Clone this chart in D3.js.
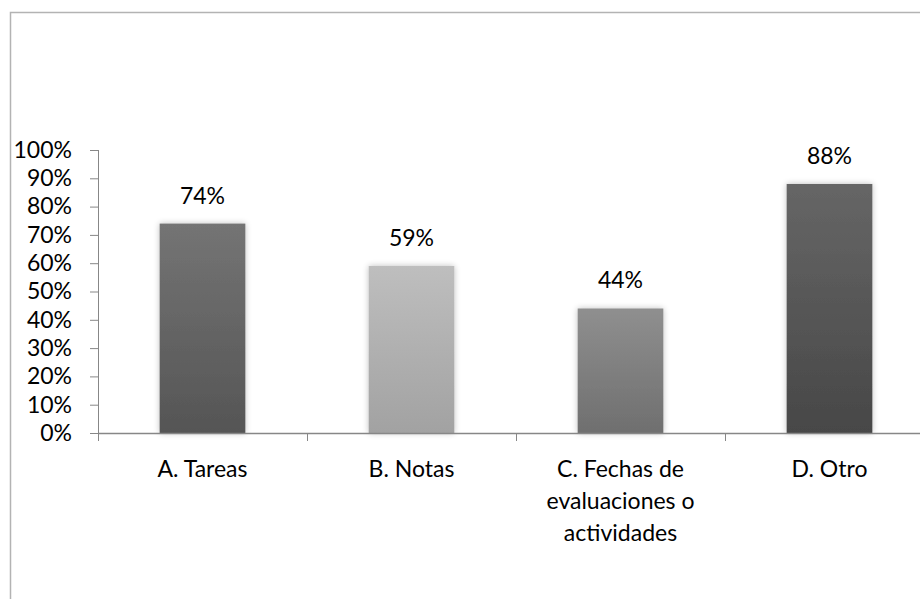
<!DOCTYPE html>
<html>
<head>
<meta charset="utf-8">
<script src="https://cdn.jsdelivr.net/npm/d3@7"></script>
<style>
  body { margin: 0; background: #fff; }
  svg text { font-family: Lato, "Open Sans", sans-serif; fill: #000; }
</style>
</head>
<body>
<script>
// Chart data
var categories = ["A. Tareas", "B. Notas", "C. Fechas de evaluaciones o actividades", "D. Otro"];
var values = [0.74, 0.59, 0.44, 0.88];
var yTicks = [0, 0.1, 0.2, 0.3, 0.4, 0.5, 0.6, 0.7, 0.8, 0.9, 1.0];
var barTop = ["#747474", "#bebebe", "#8f8f8f", "#666666"];
var barBottom = ["#555555", "#a2a2a2", "#6f6f6f", "#474747"];

var width = 920;
var height = 599;
var fontSize = "23px";

var svg = d3.select("body").append("svg")
    .attr("width", width)
    .attr("height", height);

var defs = svg.append("defs");

// soft shadow around bars
var filter = defs.append("filter")
    .attr("id", "shadow")
    .attr("x", "-20%").attr("y", "-10%")
    .attr("width", "140%").attr("height", "120%");
filter.append("feGaussianBlur").attr("in", "SourceAlpha").attr("stdDeviation", 3);
filter.append("feComponentTransfer").append("feFuncA").attr("type", "linear").attr("slope", 0.25);
var merge = filter.append("feMerge");
merge.append("feMergeNode");
merge.append("feMergeNode").attr("in", "SourceGraphic");

values.forEach(function(v, i) {
  var g = defs.append("linearGradient")
      .attr("id", "grad" + i)
      .attr("x1", 0).attr("y1", 0).attr("x2", 0).attr("y2", 1);
  g.append("stop").attr("offset", "0%").attr("stop-color", barTop[i]);
  g.append("stop").attr("offset", "100%").attr("stop-color", barBottom[i]);
});

// outer frame
svg.append("rect")
    .attr("x", 10.5).attr("y", 12.5)
    .attr("width", 1000).attr("height", 1000)
    .attr("fill", "none")
    .attr("stroke", "#b3b3b3")
    .attr("stroke-width", 1.5);

var plotLeft = 98, plotRight = 934, plotTop = 150, plotBottom = 433;

var x = d3.scaleBand()
    .domain(categories)
    .range([plotLeft, plotRight])
    .paddingInner(0.59)
    .paddingOuter(0.295);

var y = d3.scaleLinear()
    .domain([0, 1])
    .range([plotBottom, plotTop]);

// y axis
var yAxis = svg.append("g")
    .attr("transform", "translate(" + plotLeft + ",0)")
    .call(d3.axisLeft(y).tickValues(yTicks).tickSize(8).tickPadding(18)
      .tickFormat(d3.format(".0%")));
yAxis.selectAll("line").attr("stroke", "#878787");
yAxis.select(".domain").attr("stroke", "#878787").attr("d", "M0.5," + plotTop + "V" + plotBottom);
yAxis.selectAll("text").attr("font-size", fontSize).attr("fill", "#000")
    .attr("font-family", "Lato, sans-serif");

// bars
svg.selectAll(".bar")
    .data(values)
    .enter()
    .append("rect")
    .attr("class", "bar")
    .attr("x", function(d, i) { return x(categories[i]); })
    .attr("y", function(d) { return y(d); })
    .attr("width", x.bandwidth())
    .attr("height", function(d) { return plotBottom - y(d); })
    .attr("fill", function(d, i) { return "url(#grad" + i + ")"; })
    .attr("filter", "url(#shadow)");

// value labels
svg.selectAll(".val")
    .data(values)
    .enter()
    .append("text")
    .attr("class", "val")
    .attr("x", function(d, i) { return x(categories[i]) + x.bandwidth() / 2; })
    .attr("y", function(d) { return y(d) - 20; })
    .attr("text-anchor", "middle")
    .attr("font-size", fontSize)
    .text(function(d) { return Math.round(d * 100) + "%"; });

// x axis
var step = x.step();
var xAxis = svg.append("g");
xAxis.append("line")
    .attr("x1", plotLeft).attr("x2", plotRight)
    .attr("y1", plotBottom + 0.5).attr("y2", plotBottom + 0.5)
    .attr("stroke", "#878787").attr("stroke-width", 1.5);
xAxis.selectAll(".xtick")
    .data(d3.range(categories.length + 1))
    .enter()
    .append("line")
    .attr("x1", function(i) { return Math.round(plotLeft + i * step) + 0.5; })
    .attr("x2", function(i) { return Math.round(plotLeft + i * step) + 0.5; })
    .attr("y1", plotBottom).attr("y2", plotBottom + 8)
    .attr("stroke", "#878787");

// category labels with wrapping
function wrapLines(text, maxW, measure) {
  var words = text.split(" ");
  var lines = [];
  var line = "";
  words.forEach(function(w) {
    var test = line ? line + " " + w : w;
    if (line && measure(test) > maxW) {
      lines.push(line);
      line = w;
    } else {
      line = test;
    }
  });
  lines.push(line);
  return lines;
}

var measurer = svg.append("text").attr("font-size", fontSize).attr("visibility", "hidden");
function measure(s) { measurer.text(s); return measurer.node().getComputedTextLength(); }

categories.forEach(function(c) {
  var lines = wrapLines(c, 185, measure);
  var t = svg.append("text")
      .attr("text-anchor", "middle")
      .attr("font-size", fontSize)
      .attr("x", x(c) + x.bandwidth() / 2)
      .attr("y", 477);
  lines.forEach(function(l, k) {
    t.append("tspan")
      .attr("x", x(c) + x.bandwidth() / 2)
      .attr("y", 477 + k * 32)
      .text(l);
  });
});
measurer.remove();
</script>
</body>
</html>
